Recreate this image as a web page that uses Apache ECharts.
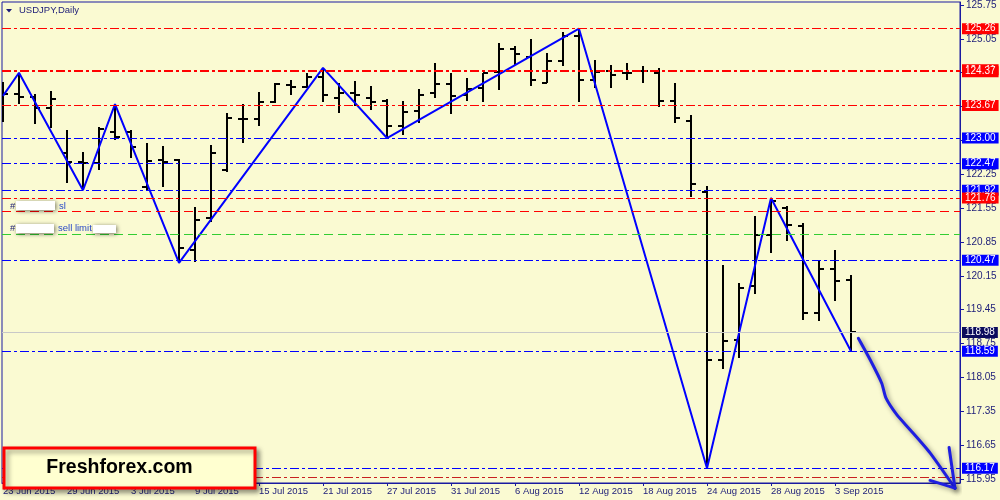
<!DOCTYPE html>
<html>
<head>
<meta charset="utf-8">
<script src="https://cdn.jsdelivr.net/npm/echarts@6/dist/echarts.min.js"></script>
<style>html,body{margin:0;padding:0;background:#fafad2}#c{width:1000px;height:500px}</style>
</head>
<body>
<div id="c"></div>
<script>
// ---- data ----
const dates = ['23 Jun 2015','24 Jun 2015','25 Jun 2015','26 Jun 2015','29 Jun 2015','30 Jun 2015',
 '1 Jul 2015','2 Jul 2015','3 Jul 2015','6 Jul 2015','7 Jul 2015','8 Jul 2015','9 Jul 2015','10 Jul 2015',
 '13 Jul 2015','14 Jul 2015','15 Jul 2015','16 Jul 2015','17 Jul 2015','20 Jul 2015','21 Jul 2015',
 '22 Jul 2015','23 Jul 2015','24 Jul 2015','27 Jul 2015','28 Jul 2015','29 Jul 2015','30 Jul 2015','31 Jul 2015',
 '3 Aug 2015','4 Aug 2015','5 Aug 2015','6 Aug 2015','7 Aug 2015','10 Aug 2015','11 Aug 2015','12 Aug 2015',
 '13 Aug 2015','14 Aug 2015','17 Aug 2015','18 Aug 2015','19 Aug 2015','20 Aug 2015','21 Aug 2015',
 '24 Aug 2015','25 Aug 2015','26 Aug 2015','27 Aug 2015','28 Aug 2015','31 Aug 2015',
 '1 Sep 2015','2 Sep 2015','3 Sep 2015','4 Sep 2015'];
const openP  = [123.80,123.91,123.84,123.63,122.69,122.50,122.49,123.13,123.13,121.98,122.55,122.55,120.69,121.34,
 122.34,123.39,123.39,123.75,124.10,124.05,124.27,123.83,123.94,123.83,123.77,123.24,123.55,123.93,124.11,
 123.89,124.03,124.36,124.83,124.68,124.14,124.59,125.10,124.20,124.39,124.34,124.39,124.35,123.77,123.36,
 121.88,118.42,118.83,119.94,121.00,121.56,121.19,119.38,120.30,120.07];
const highP  = [124.16,124.35,123.91,123.98,123.17,122.72,123.22,123.70,123.17,122.89,122.84,122.56,121.57,122.86,
 123.51,123.70,123.95,124.14,124.20,124.35,124.45,124.13,124.17,124.08,123.80,123.77,124.01,124.55,124.34,
 124.24,124.35,124.97,124.90,125.04,124.75,125.19,125.26,124.61,124.51,124.55,124.48,124.44,124.14,123.48,
 122.01,120.38,120.00,121.39,121.76,121.60,121.24,120.45,120.69,120.17];
const lowP   = [123.33,123.70,123.29,123.20,122.08,121.92,122.33,122.95,122.58,121.93,121.98,120.42,120.44,121.27,
 122.29,122.89,123.24,123.73,123.89,124.03,123.75,123.52,123.66,123.57,123.00,123.06,123.31,123.83,123.49,
 123.77,123.75,123.99,124.51,124.08,124.14,124.48,123.75,124.03,124.03,124.20,124.14,123.65,123.31,121.79,
 116.17,118.22,118.45,119.78,120.62,120.87,119.24,119.21,119.62,118.59];
const closeP = [123.91,123.84,123.62,123.81,122.51,122.48,123.19,123.03,122.82,122.53,122.51,120.73,121.31,122.70,
 123.41,123.39,123.74,124.11,124.06,124.26,123.88,123.94,123.89,123.75,123.24,123.53,123.89,124.12,123.87,
 124.01,124.35,124.83,124.73,124.20,124.59,125.10,124.19,124.37,124.30,124.34,124.39,123.77,123.41,122.05,
 118.42,118.81,119.90,121.00,121.70,121.20,119.39,120.30,120.05,118.98];

const zigzagIdx = [0,1,5,7,11,20,24,36,44,48,53];
const zigzagVal = [123.87,124.35,121.92,123.70,120.42,124.45,123.00,125.26,116.17,121.76,118.59];

const xLabelIdx = [0,4,8,12,16,20,24,28,32,36,40,44,48,52];
const yTicks = [115.95,116.65,117.35,118.05,118.75,119.45,120.15,120.85,121.55,122.25,122.95,123.65,124.35,125.05,125.75];

const blueLevels = [123.00,122.47,121.92,120.47,118.59,116.17];
const redLevels  = [125.26,124.41,124.37,123.67,121.76];
const slLevel = 121.49;
const limitLevel = 121.00;
const tpLevel = 115.98;
const bidLevel = 118.98;

const arrowX = [53.46,54.19,54.92,55.19,55.86,56.69,57.94,59.50];
const arrowY = [118.86,118.42,117.93,117.62,117.28,116.97,116.49,115.76];
const headAX = [59.13,59.50], headAY = [116.60,115.76];
const headBX = [57.94,59.50], headBY = [115.92,115.76];

// ---- styling ----
const FONT = 'Liberation Sans';
const NAVY = '#1a1aa0';
const LBL = '#1c1c78';
const DASHDOT = [9,3,3,3];

const ohlc = dates.map((d,i)=>[i, openP[i], highP[i], lowP[i], closeP[i]]);
const zz = zigzagIdx.map((x,i)=>[x, zigzagVal[i]]);
const arrowBody = arrowX.map((x,i)=>[x, arrowY[i]]);
const headA = headAX.map((x,i)=>[x, headAY[i]]);
const headB = headBX.map((x,i)=>[x, headBY[i]]);

function boxLabel(bg){
  return {show:true, position:'end', distance:2, formatter:p=>p.value.toFixed(2),
    backgroundColor:bg, color:'#ffffff', padding:[0,3,0,3], lineHeight:11,
    fontSize:10, fontFamily:FONT};
}
const mlData = [];
blueLevels.forEach(v=>mlData.push({yAxis:v, lineStyle:{color:'#0000ff', type:DASHDOT, width:1}, label:boxLabel('#0000ff')}));
redLevels.forEach(v=>mlData.push({yAxis:v, lineStyle:{color:'#ff0000', type:DASHDOT, width:1}, label:boxLabel('#ff0000')}));
mlData.push({yAxis:slLevel, lineStyle:{color:'#ff0000', type:[9,5], width:1}, label:{show:false}});
mlData.push({yAxis:limitLevel, lineStyle:{color:'#32cd32', type:[9,5], width:1}, label:{show:false}});
mlData.push({yAxis:tpLevel, lineStyle:{color:'#c82020', type:DASHDOT, width:1}, label:{show:false}});
mlData.push({yAxis:bidLevel, lineStyle:{color:'#c8c8c8', type:'solid', width:1}, label:boxLabel('#0c0c5c')});

const arrowStyle = {color:'#1e1ee0', width:3, shadowBlur:5, shadowColor:'rgba(0,0,0,0.45)', shadowOffsetX:2, shadowOffsetY:2, cap:'round', join:'round'};

const chart = echarts.init(document.getElementById('c'), null, {renderer:'canvas'});
const option = {
  animation:false,
  backgroundColor:'#fafad2',
  textStyle:{fontFamily:FONT},
  grid:{left:2, top:2, right:40, bottom:17, show:true, borderColor:NAVY, borderWidth:1, backgroundColor:'transparent'},
  xAxis:{type:'value', min:-0.0625, max:59.8125,
    axisLine:{show:true, onZero:false, lineStyle:{color:NAVY}},
    axisTick:{show:true, length:3, customValues:xLabelIdx, lineStyle:{color:NAVY}},
    axisLabel:{customValues:xLabelIdx, formatter:v=>dates[Math.round(v)]||'', align:'left', margin:3,
      color:LBL, fontFamily:FONT, fontSize:9.5},
    splitLine:{show:false}},
  yAxis:{type:'value', position:'right', min:115.867, max:125.812,
    axisLine:{show:true, onZero:false, lineStyle:{color:NAVY}},
    axisTick:{show:true, length:4, customValues:yTicks, lineStyle:{color:NAVY}},
    axisLabel:{customValues:yTicks, formatter:v=>v.toFixed(2), margin:6, color:LBL, fontFamily:FONT, fontSize:10},
    splitLine:{show:false}},
  series:[
    {type:'line', data:[], z:1, silent:true,
     markLine:{silent:true, symbol:['none','none'], animation:false, precision:2, data:mlData}},
    {type:'custom', z:3, clip:true, data:ohlc, encode:{x:0, y:[1,2,3,4]},
     renderItem:function(params, api){
       const i = api.value(0);
       const pH = api.coord([i, api.value(2)]);
       const pL = api.coord([i, api.value(3)]);
       const pO = api.coord([i, api.value(1)]);
       const pC = api.coord([i, api.value(4)]);
       const x = Math.round(pH[0]);
       const st = {stroke:'#000000', lineWidth:2};
       return {type:'group', children:[
         {type:'line', shape:{x1:x, y1:Math.round(pH[1]), x2:x, y2:Math.round(pL[1])}, style:st},
         {type:'line', shape:{x1:x-5, y1:Math.round(pO[1]), x2:x, y2:Math.round(pO[1])}, style:st},
         {type:'line', shape:{x1:x, y1:Math.round(pC[1]), x2:x+5, y2:Math.round(pC[1])}, style:st}
       ]};
     }},
    {type:'line', z:4, data:zz, symbol:'none', silent:true, lineStyle:{color:'#0000ff', width:2}},
    {type:'line', z:5, data:arrowBody, symbol:'none', clip:false, silent:true, smooth:0.2, lineStyle:arrowStyle},
    {type:'line', z:5, data:headA, symbol:'none', clip:false, silent:true, lineStyle:arrowStyle},
    {type:'line', z:5, data:headB, symbol:'none', clip:false, silent:true, lineStyle:arrowStyle}
  ],
  graphic:[
    {type:'polygon', shape:{points:[[6,9],[12,9],[9,12.5]]}, style:{fill:LBL}, z:10},
    {type:'text', x:19, y:5, style:{text:'USDJPY,Daily', fill:LBL, font:'9.5px "Liberation Sans"'}, z:10},
    {type:'text', x:10, y:201, style:{text:'#', fill:LBL, font:'9.5px "Liberation Sans"'}, z:10},
    {type:'rect', shape:{x:16, y:201, width:39, height:9}, style:{fill:'#ffffff', shadowBlur:4, shadowColor:'rgba(0,0,0,0.55)', shadowOffsetX:1, shadowOffsetY:1}, z:10},
    {type:'text', x:59, y:201, style:{text:'sl', fill:'#2848c8', font:'9.5px "Liberation Sans"'}, z:10},
    {type:'text', x:10, y:223.5, style:{text:'#', fill:LBL, font:'9.5px "Liberation Sans"'}, z:10},
    {type:'rect', shape:{x:16, y:224, width:38, height:9}, style:{fill:'#ffffff', shadowBlur:4, shadowColor:'rgba(0,0,0,0.55)', shadowOffsetX:1, shadowOffsetY:1}, z:10},
    {type:'text', x:58, y:223.5, style:{text:'sell limit', fill:'#2848c8', font:'9.5px "Liberation Sans"'}, z:10},
    {type:'rect', shape:{x:93, y:225, width:23, height:8}, style:{fill:'#ffffff', shadowBlur:4, shadowColor:'rgba(0,0,0,0.55)', shadowOffsetX:1, shadowOffsetY:1}, z:10},
    {type:'rect', shape:{x:4, y:448, width:251, height:40}, style:{fill:'#ffffd0', stroke:'#ff0000', lineWidth:3, shadowBlur:5, shadowColor:'rgba(0,0,0,0.4)', shadowOffsetX:3, shadowOffsetY:3}, z:20},
    {type:'text', x:119.5, y:468, style:{text:'Freshforex.com', fill:'#000000', font:'bold 19.5px "Liberation Sans"', align:'center', verticalAlign:'middle'}, z:21}
  ]
};
chart.setOption(option);
</script>
</body>
</html>
